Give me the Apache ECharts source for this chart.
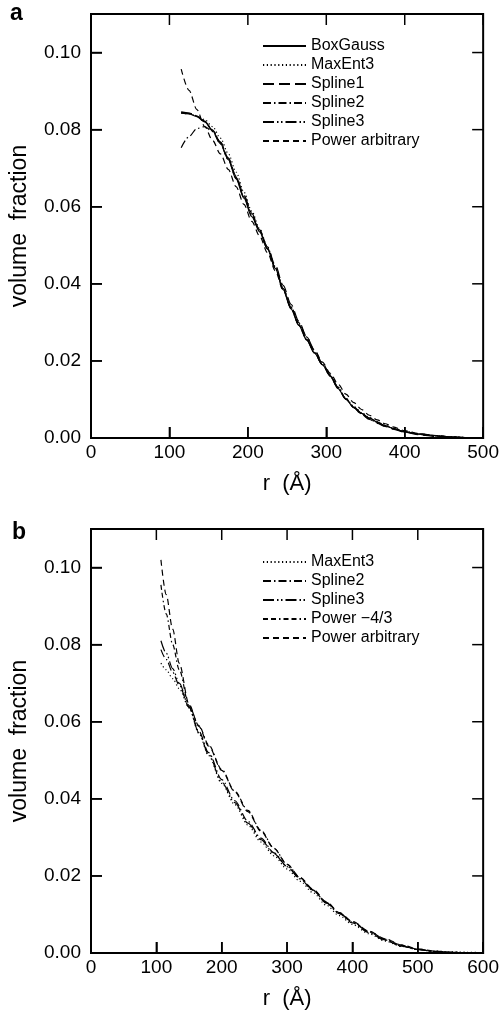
<!DOCTYPE html>
<html><head><meta charset="utf-8">
<script src="https://cdn.jsdelivr.net/npm/echarts@6/dist/echarts.min.js"></script>
<style>html,body{margin:0;padding:0;background:#fff}#c{width:502px;height:1011px}</style>
</head><body><div id="c"></div>
<script>
// ---- Panel a data ----
const rA = [115,125,135,145,155,165,175,185,195,205,215,225,235,245,255,265,275,285,295,305,315,325,335,345,355,365,375,385,400,420,440,460,480,500];
const aBoxGauss = [.0843,.0841,.0834,.0820,.0797,.0764,.0722,.0672,.0622,.0574,.0535,.0490,.0440,.0385,.0335,.0292,.0254,.0220,.0190,.0160,.0128,.0100,.0080,.0064,.0052,.0041,.0032,.0025,.0016,.0010,.0006,.0003,.0001,.0000];
const aMaxEnt3 = [.0843,.0841,.0836,.0826,.0808,.0778,.0738,.0690,.0638,.0588,.0543,.0495,.0445,.0390,.0340,.0296,.0257,.0222,.0191,.0161,.0131,.0103,.0082,.0066,.0053,.0042,.0033,.0026,.0017,.0010,.0005,.0003,.0001,.0000];
const aSpline1 = [.0845,.0842,.0835,.0821,.0799,.0768,.0727,.0679,.0630,.0583,.0540,.0496,.0448,.0396,.0347,.0303,.0263,.0227,.0195,.0164,.0132,.0102,.0079,.0061,.0048,.0038,.0030,.0023,.0015,.0008,.0004,.0002,.0001,.0000];
const aSpline2 = [.0753,.0782,.0803,.0808,.0795,.0763,.0722,.0674,.0625,.0578,.0537,.0492,.0442,.0388,.0338,.0294,.0256,.0222,.0191,.0162,.0131,.0101,.0079,.0063,.0050,.0039,.0031,.0024,.0016,.0009,.0005,.0002,.0001,.0000];
const aSpline3 = [.0846,.0843,.0836,.0822,.0799,.0767,.0725,.0676,.0626,.0578,.0537,.0491,.0441,.0386,.0336,.0293,.0255,.0221,.0190,.0162,.0129,.0101,.0080,.0064,.0051,.0041,.0032,.0025,.0016,.0010,.0006,.0003,.0001,.0000];
const aPowerArb = [.0957,.0902,.0852,.0808,.0772,.0737,.0697,.0652,.0606,.0562,.0524,.0481,.0434,.0383,.0340,.0299,.0262,.0228,.0197,.0168,.0140,.0114,.0092,.0074,.0059,.0047,.0037,.0029,.0019,.0011,.0006,.0003,.0001,.0000];

// ---- Panel b data ----
const rB = [107,115,125,135,150,165,180,200,220,240,260,280,300,320,340,360,380,400,425,450,475,500,525,550,575,600];
const bMaxEnt3 = [.0752,.0735,.0712,.0686,.0636,.0570,.0512,.0440,.0385,.0332,.0288,.0252,.0218,.0186,.0156,.0124,.0097,.0074,.0050,.0031,.0017,.0009,.0005,.0003,.0002,.0001];
const bSpline2 = [.0787,.0762,.0728,.0695,.0638,.0575,.0520,.0450,.0395,.0342,.0298,.0260,.0225,.0192,.0162,.0130,.0102,.0078,.0053,.0033,.0018,.0009,.0004,.0002,.0001,.0000];
const bSpline3 = [.0810,.0778,.0738,.0700,.0638,.0572,.0515,.0443,.0390,.0337,.0294,.0258,.0224,.0193,.0163,.0130,.0103,.0080,.0055,.0034,.0018,.0009,.0004,.0002,.0001,.0000];
const bPower43 = [.0955,.0880,.0800,.0735,.0642,.0590,.0540,.0476,.0420,.0370,.0318,.0272,.0230,.0195,.0163,.0131,.0104,.0081,.0056,.0036,.0020,.0010,.0004,.0001,.0000,.0000];
const bPowerArb = [.1020,.0930,.0840,.0752,.0645,.0588,.0537,.0474,.0418,.0367,.0316,.0271,.0230,.0196,.0165,.0133,.0105,.0082,.0057,.0037,.0021,.0011,.0005,.0002,.0000,.0000];

// ---- tick values ----
const yTicks = [0, 0.02, 0.04, 0.06, 0.08, 0.10];
const xTicksA = [0,100,200,300,400,500];
const xTicksB = [0,100,200,300,400,500,600];

const FONT = 'Liberation Sans';
const TICK_LEN = 11;
const styles = {
  'BoxGauss': 'solid',
  'MaxEnt3': [1.2, 2.6],
  'Spline1': [11, 5],
  'Spline2': [8, 3, 1.5, 3],
  'Spline3': [11, 3, 1.5, 2.5, 1.5, 3],
  'Power arbitrary': [6, 4],
  'Power \u22124/3': [5, 3, 5, 3, 1.5, 3]
};
const pair = (xs, ys) => xs.map((x, i) => [x, ys[i]]);
function mk(name, xs, ys, ai) {
  return { name, type: 'line', xAxisIndex: ai, yAxisIndex: ai, data: pair(xs, ys),
    symbol: 'none', smooth: 0.3, smoothMonotone: 'x', silent: true,
    lineStyle: { color: '#000', width: 1.2, type: styles[name] }, itemStyle: { color: '#000' } };
}
// inward frame ticks on all four sides, placed through the axis scales
function tickSeries(ai, xTicks) {
  const data = xTicks.map(v => [v, 0, 0]).concat(yTicks.map(v => [0, v, 1]));
  return { type: 'custom', name: 'ticks', xAxisIndex: ai, yAxisIndex: ai, silent: true, clip: false, z: 5,
    data, encode: { x: 0, y: 1 },
    renderItem: (params, api) => {
      const cs = params.coordSys;
      const st = { stroke: '#000', lineWidth: 1.5 };
      if (api.value(2) === 0) {
        const px = api.coord([api.value(0), 0])[0];
        return { type: 'group', children: [
          { type: 'line', shape: { x1: px, y1: cs.y + cs.height, x2: px, y2: cs.y + cs.height - TICK_LEN }, style: st },
          { type: 'line', shape: { x1: px, y1: cs.y, x2: px, y2: cs.y + TICK_LEN }, style: st } ] };
      }
      const py = api.coord([0, api.value(1)])[1];
      return { type: 'group', children: [
        { type: 'line', shape: { x1: cs.x, y1: py, x2: cs.x + TICK_LEN, y2: py }, style: st },
        { type: 'line', shape: { x1: cs.x + cs.width, y1: py, x2: cs.x + cs.width - TICK_LEN, y2: py }, style: st } ] };
    } };
}
const grids = [
  { left: 88, top: 14, width: 406, height: 424, show: true, borderColor: '#000', borderWidth: 2, backgroundColor: 'transparent' },
  { left: 88, top: 529, width: 406, height: 425, show: true, borderColor: '#000', borderWidth: 2, backgroundColor: 'transparent' }
];
const lineSt = { color: '#000', width: 2 };
const tickSt = { show: true, inside: true, length: TICK_LEN, lineStyle: { color: '#000', width: 1.5 } };
function xMain(gi, max, ticks) {
  return { type: 'value', gridIndex: gi, min: 0, max, interval: 100, position: 'bottom',
    name: 'r  (\u00c5)', nameLocation: 'middle', nameGap: 35,
    nameTextStyle: { fontFamily: FONT, fontSize: 22, color: '#000' },
    axisLine: { show: true, lineStyle: lineSt },
    axisTick: tickSt,
    axisLabel: { show: true, margin: 5, fontFamily: FONT, fontSize: 19, color: '#000',
      formatter: v => ticks.includes(v) ? String(v) : '' },
    splitLine: { show: false } };
}
function yMain(gi) {
  return { type: 'value', gridIndex: gi, min: 0, max: 0.11, interval: 0.02, position: 'left',
    name: 'volume  fraction', nameLocation: 'middle', nameGap: 60, nameRotate: 90,
    nameTextStyle: { fontFamily: FONT, fontSize: 23, color: '#000' },
    axisLine: { show: true, lineStyle: lineSt },
    axisTick: tickSt,
    axisLabel: { show: true, margin: 10, fontFamily: FONT, fontSize: 19, color: '#000', showMaxLabel: false,
      formatter: v => yTicks.some(t => Math.abs(t - v) < 1e-9) ? v.toFixed(2) : '' },
    splitLine: { show: false } };
}
const legendCommon = { orient: 'vertical', itemWidth: 43, itemHeight: 10, itemGap: 3, padding: 0,
  selectedMode: false,
  itemStyle: { opacity: 0 },
  textStyle: { fontFamily: FONT, fontSize: 16, color: '#000', lineHeight: 14.3 } };

const seriesA = [
  mk('BoxGauss', rA, aBoxGauss, 0), mk('MaxEnt3', rA, aMaxEnt3, 0), mk('Spline1', rA, aSpline1, 0),
  mk('Spline2', rA, aSpline2, 0), mk('Spline3', rA, aSpline3, 0), mk('Power arbitrary', rA, aPowerArb, 0)
];
const seriesB = [
  mk('MaxEnt3', rB, bMaxEnt3, 1), mk('Spline2', rB, bSpline2, 1), mk('Spline3', rB, bSpline3, 1),
  mk('Power \u22124/3', rB, bPower43, 1), mk('Power arbitrary', rB, bPowerArb, 1)
];

const chart = echarts.init(document.getElementById('c'), null, { renderer: 'canvas' });
chart.setOption({
  animation: false,
  backgroundColor: '#fff',
  grid: grids,
  xAxis: [xMain(0, 500, xTicksA), xMain(1, 600, xTicksB)],
  yAxis: [yMain(0), yMain(1)],
  legend: [
    Object.assign({}, legendCommon, { left: 262, top: 38, data: ['BoxGauss','MaxEnt3','Spline1','Spline2','Spline3','Power arbitrary'] }),
    Object.assign({}, legendCommon, { left: 262, top: 554, data: ['MaxEnt3','Spline2','Spline3','Power \u22124/3','Power arbitrary'] })
  ],
  graphic: [
    { type: 'text', left: 10, top: 2, style: { text: 'a', font: 'bold 23px "Liberation Sans"', fill: '#000' } },
    { type: 'text', left: 12, top: 521, style: { text: 'b', font: 'bold 23px "Liberation Sans"', fill: '#000' } }
  ],
  series: seriesA.concat(seriesB, [tickSeries(0, xTicksA), tickSeries(1, xTicksB)])
});
</script></body></html>
